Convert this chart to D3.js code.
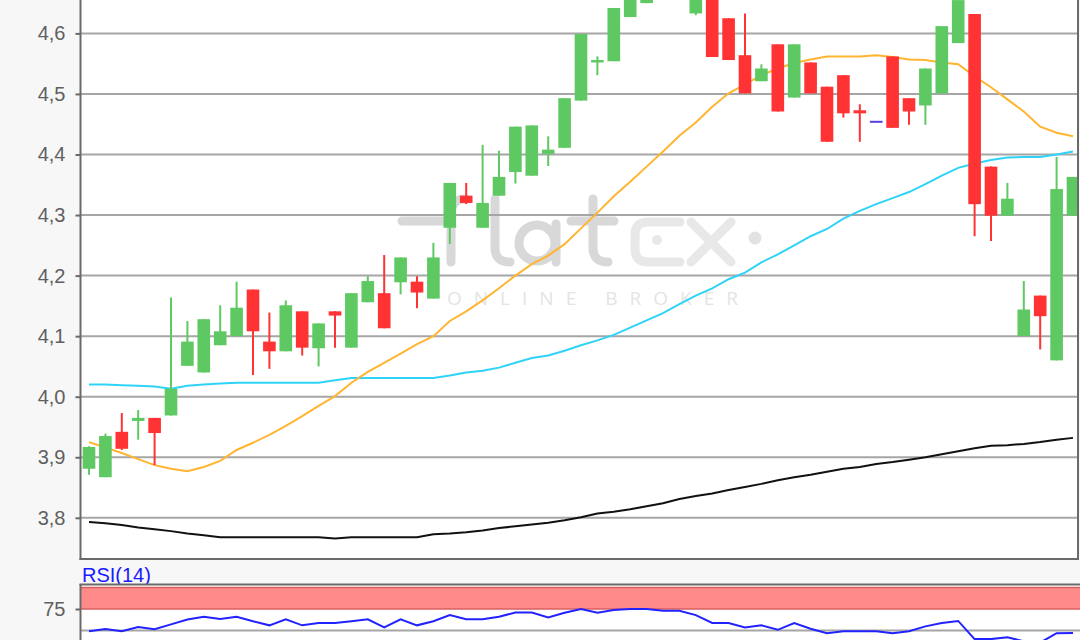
<!DOCTYPE html>
<html><head><meta charset="utf-8">
<script src="https://cdn.jsdelivr.net/npm/d3@7"></script>
<style>html,body{margin:0;padding:0;background:#f7f7f7;}svg{display:block;}</style>
</head><body>
<svg id="c" width="1080" height="640"></svg>
<script>
// ---- data ----
const sessions = d3.range(61);
const opens  = [3.881,3.867,3.942,3.960,3.965,3.969,4.051,4.040,4.085,4.100,4.177,4.091,4.075,4.141,4.080,4.141,4.081,4.156,4.171,4.189,4.190,4.162,4.279,4.332,4.279,4.332,4.371,4.365,4.401,4.411,4.489,4.552,4.554,4.627,4.650,4.680,4.680,4.633,4.680,4.625,4.564,4.521,4.582,4.494,4.552,4.512,4.531,4.473,4.454,4.562,4.493,4.481,4.501,4.584,4.632,4.380,4.299,4.100,4.167,4.060,4.299];
const closes = [3.917,3.935,3.914,3.965,3.940,4.013,4.091,4.128,4.108,4.147,4.108,4.075,4.151,4.081,4.121,4.134,4.171,4.191,4.113,4.230,4.172,4.230,4.353,4.320,4.320,4.363,4.446,4.448,4.408,4.493,4.599,4.556,4.642,4.680,4.690,4.710,4.700,4.680,4.561,4.556,4.501,4.542,4.471,4.582,4.501,4.421,4.468,4.468,4.454,4.444,4.471,4.542,4.612,4.655,4.318,4.299,4.327,4.144,4.133,4.343,4.363];
const highs  = [3.918,3.939,3.973,3.978,3.965,4.164,4.125,4.128,4.151,4.190,4.177,4.139,4.159,4.141,4.121,4.141,4.171,4.199,4.234,4.230,4.199,4.254,4.353,4.353,4.416,4.406,4.446,4.448,4.430,4.493,4.599,4.562,4.642,4.690,4.700,4.720,4.710,4.690,4.690,4.625,4.633,4.549,4.582,4.582,4.552,4.512,4.531,4.483,4.454,4.562,4.493,4.542,4.612,4.655,4.632,4.380,4.353,4.191,4.167,4.396,4.363];
const lows   = [3.871,3.867,3.912,3.929,3.887,3.969,4.051,4.040,4.085,4.100,4.036,4.046,4.075,4.068,4.050,4.081,4.081,4.156,4.113,4.169,4.146,4.162,4.252,4.318,4.279,4.332,4.352,4.365,4.381,4.411,4.489,4.531,4.554,4.627,4.650,4.670,4.656,4.630,4.561,4.556,4.501,4.521,4.471,4.494,4.501,4.421,4.461,4.421,4.454,4.444,4.449,4.449,4.501,4.584,4.265,4.257,4.299,4.100,4.078,4.060,4.299];
const maShort = [3.925,3.916,3.907,3.897,3.887,3.881,3.877,3.884,3.894,3.912,3.924,3.937,3.952,3.968,3.985,4.001,4.023,4.041,4.056,4.071,4.087,4.100,4.125,4.141,4.159,4.179,4.200,4.219,4.233,4.252,4.278,4.304,4.331,4.355,4.380,4.405,4.431,4.453,4.479,4.501,4.516,4.531,4.542,4.551,4.557,4.562,4.562,4.562,4.564,4.561,4.557,4.556,4.552,4.549,4.529,4.511,4.491,4.471,4.446,4.436,4.430];
const maMid   = [4.020,4.020,4.019,4.018,4.017,4.013,4.018,4.020,4.022,4.023,4.023,4.023,4.023,4.023,4.023,4.027,4.031,4.031,4.031,4.031,4.031,4.031,4.035,4.040,4.043,4.048,4.056,4.064,4.068,4.076,4.085,4.093,4.102,4.114,4.126,4.138,4.153,4.167,4.179,4.194,4.205,4.222,4.235,4.250,4.265,4.277,4.294,4.307,4.318,4.328,4.338,4.351,4.365,4.378,4.385,4.391,4.395,4.396,4.396,4.400,4.405];
const maLong  = [3.793,3.791,3.788,3.784,3.781,3.778,3.774,3.771,3.768,3.768,3.768,3.768,3.768,3.768,3.768,3.766,3.768,3.768,3.768,3.768,3.768,3.773,3.774,3.776,3.779,3.783,3.786,3.789,3.792,3.796,3.801,3.807,3.810,3.814,3.819,3.824,3.831,3.836,3.840,3.846,3.851,3.856,3.862,3.867,3.871,3.876,3.881,3.884,3.889,3.892,3.896,3.900,3.905,3.910,3.915,3.919,3.920,3.922,3.925,3.929,3.932];
const rsi = [49.2,51.6,49.2,54,51.6,57.1,62.7,65.9,63.5,65.9,60.7,56,63.1,56,58.7,58.7,60.7,63.1,53.6,63.1,56,60.7,67.9,63.1,63.1,65.9,71,71,65.1,70.6,75,70.6,73.8,75,75,73,73,67.9,58.7,58.7,53.6,56,50.8,58.7,52,46.8,49.2,49.2,49.2,46.8,49.2,54.8,58.7,61.1,40,40,42,37.5,36,46.8,47];
const priceTicks = [3.8,3.9,4.0,4.1,4.2,4.3,4.4,4.5,4.6];
const priceTickLabels = ["3,8","3,9","4,0","4,1","4,2","4,3","4,4","4,5","4,6"];
const rsiTicks = [75];
const rsiLabel = "RSI(14)";
const overbought = [75, 100];
const rsiMid = 50;

// ---- layout ----
const svg = d3.select("#c");
const L = 81, R = 1078, mainBottom = 558;
const x = d3.scaleBand().domain(sessions).range([80.8, 1081.2]).paddingInner(0.23).paddingOuter(0.115);
const cx = i => x(i) + x.bandwidth()/2;
const y = d3.scaleLinear().domain([4.0, 4.7]).range([396.7, 396.7 - 0.7*605.5]);
const yr = d3.scaleLinear().domain([0, 100]).range([673.5, 587.5]);

svg.append("rect").attr("width",1080).attr("height",640).attr("fill","#f7f7f7");

const defs = svg.append("defs");
defs.append("clipPath").attr("id","mainClip").append("rect").attr("x",L).attr("y",-40).attr("width",R-L).attr("height",mainBottom+40);
defs.append("clipPath").attr("id","rsiClip").append("rect").attr("x",L).attr("y",585).attr("width",1080-L).attr("height",120);

// main panel
svg.append("rect").attr("x",L).attr("y",-40).attr("width",R-L).attr("height",mainBottom+40).attr("fill","#fff");
const main = svg.append("g").attr("clip-path","url(#mainClip)");

// watermark
const wm = main.append("g").attr("fill","none").attr("stroke-linecap","round").attr("stroke-linejoin","round").attr("stroke-width",9);
wm.append("path").attr("stroke","#d8d8d8").attr("d","M402,221 H446 M451,262 V214 Q451,199 466,199 M495,199 V248 Q495,262 510,262 M556,224 V262 M593,199 V248 Q593,262 608,262 M571,221 H614");
wm.append("circle").attr("cx",537).attr("cy",243).attr("r",18).attr("stroke","#d8d8d8");
wm.append("path").attr("stroke","#e8e8e8").attr("d","M680,222 H648 Q635,222 635,235 V249 Q635,262 648,262 H680 M691,222 L731,262 M731,222 L691,262");
wm.append("circle").attr("cx",657).attr("cy",240).attr("r",5).attr("fill","#e8e8e8").attr("stroke","none");
wm.append("circle").attr("cx",755).attr("cy",238).attr("r",6.5).attr("fill","#e2e2e2").attr("stroke","none");
main.append("text").attr("x",447).attr("y",305).attr("textLength",291).attr("lengthAdjust","spacing")
  .attr("font-family","Open Sans, Liberation Sans, sans-serif").attr("font-size",19).attr("fill","#e4e4e4").text("ONLINE BROKER");

// grid
main.append("g").selectAll("line").data(priceTicks).join("line")
  .attr("x1",L).attr("x2",R).attr("y1",d=>y(d)).attr("y2",d=>y(d))
  .attr("stroke","#a6a6a6").attr("stroke-width",2);

// moving averages
const line = arr => d3.line().x((d,i)=>cx(i)).y(d=>y(d))(arr);
main.append("path").attr("d",line(maLong)).attr("fill","none").attr("stroke","#111").attr("stroke-width",2);
main.append("path").attr("d",line(maMid)).attr("fill","none").attr("stroke","#2fd3f7").attr("stroke-width",2);
main.append("path").attr("d",line(maShort)).attr("fill","none").attr("stroke","#ffb531").attr("stroke-width",2);

// candles
const col = i => closes[i] > opens[i] ? "#5ec962" : (closes[i] < opens[i] ? "#ff3333" : "#5a3fe0");
const cg = main.append("g");
cg.selectAll("line").data(sessions).join("line")
  .attr("x1",cx).attr("x2",cx).attr("y1",i=>y(highs[i])).attr("y2",i=>y(lows[i]))
  .attr("stroke",col).attr("stroke-width",2);
cg.selectAll("rect").data(sessions).join("rect")
  .attr("x",i=>x(i)).attr("width",x.bandwidth())
  .attr("y",i=>y(Math.max(opens[i],closes[i])) - (opens[i]===closes[i]?1:0))
  .attr("height",i=>Math.max(2, Math.abs(y(opens[i])-y(closes[i]))))
  .attr("fill",col);

// main axes/borders
const yAxis = d3.axisLeft(y).tickValues(priceTicks).tickFormat((d,i)=>priceTickLabels[i]).tickSize(5).tickPadding(10);
const ax = svg.append("g").attr("transform",`translate(${L-0.5},0)`).call(yAxis);
ax.select(".domain").remove();
ax.selectAll("line").attr("stroke","#6a6a6a").attr("stroke-width",2);
ax.selectAll("text").attr("font-family","Liberation Sans, Arial, sans-serif").attr("font-size",20).attr("fill","#606060");
svg.append("line").attr("x1",L-0.5).attr("x2",L-0.5).attr("y1",0).attr("y2",mainBottom+2).attr("stroke","#6a6a6a").attr("stroke-width",2);
svg.append("line").attr("x1",L-1.5).attr("x2",R+1).attr("y1",mainBottom+1).attr("y2",mainBottom+1).attr("stroke","#6a6a6a").attr("stroke-width",2);
svg.append("line").attr("x1",R).attr("x2",R).attr("y1",0).attr("y2",mainBottom+2).attr("stroke","#6a6a6a").attr("stroke-width",2);

// RSI panel
svg.append("text").attr("x",82).attr("y",582).attr("font-family","Liberation Sans, Arial, sans-serif").attr("font-size",20).attr("fill","#1a1aff").text(rsiLabel);
svg.append("rect").attr("x",L).attr("y",585).attr("width",1080-L).attr("height",60).attr("fill","#fff");
const rg = svg.append("g").attr("clip-path","url(#rsiClip)");
rg.append("rect").attr("x",L).attr("width",1080-L).attr("y",yr(overbought[1])).attr("height",yr(overbought[0])-yr(overbought[1])).attr("fill","#ff8a8a");
rg.selectAll("line.ob").data(overbought).join("line").attr("class","ob")
  .attr("x1",L).attr("x2",1080).attr("y1",d=>yr(d)).attr("y2",d=>yr(d)).attr("stroke","#d95f5f").attr("stroke-width",1.5);
rg.append("line").attr("x1",L).attr("x2",1080).attr("y1",yr(rsiMid)).attr("y2",yr(rsiMid)).attr("stroke","#a6a6a6").attr("stroke-width",2);
rg.append("path").attr("d",d3.line().x((d,i)=>cx(i)).y(d=>yr(d))(rsi)).attr("fill","none").attr("stroke","#2222ff").attr("stroke-width",2);
const rAxis = d3.axisLeft(yr).tickValues(rsiTicks).tickSize(5).tickPadding(10);
const rax = svg.append("g").attr("transform",`translate(${L-0.5},0)`).call(rAxis);
rax.select(".domain").remove();
rax.selectAll("line").attr("stroke","#6a6a6a").attr("stroke-width",2);
rax.selectAll("text").attr("font-family","Liberation Sans, Arial, sans-serif").attr("font-size",20).attr("fill","#606060");
svg.append("line").attr("x1",L-1.5).attr("x2",1080).attr("y1",584.5).attr("y2",584.5).attr("stroke","#6a6a6a").attr("stroke-width",2);
svg.append("line").attr("x1",L-0.5).attr("x2",L-0.5).attr("y1",584).attr("y2",640).attr("stroke","#6a6a6a").attr("stroke-width",2);
</script>
</body></html>
